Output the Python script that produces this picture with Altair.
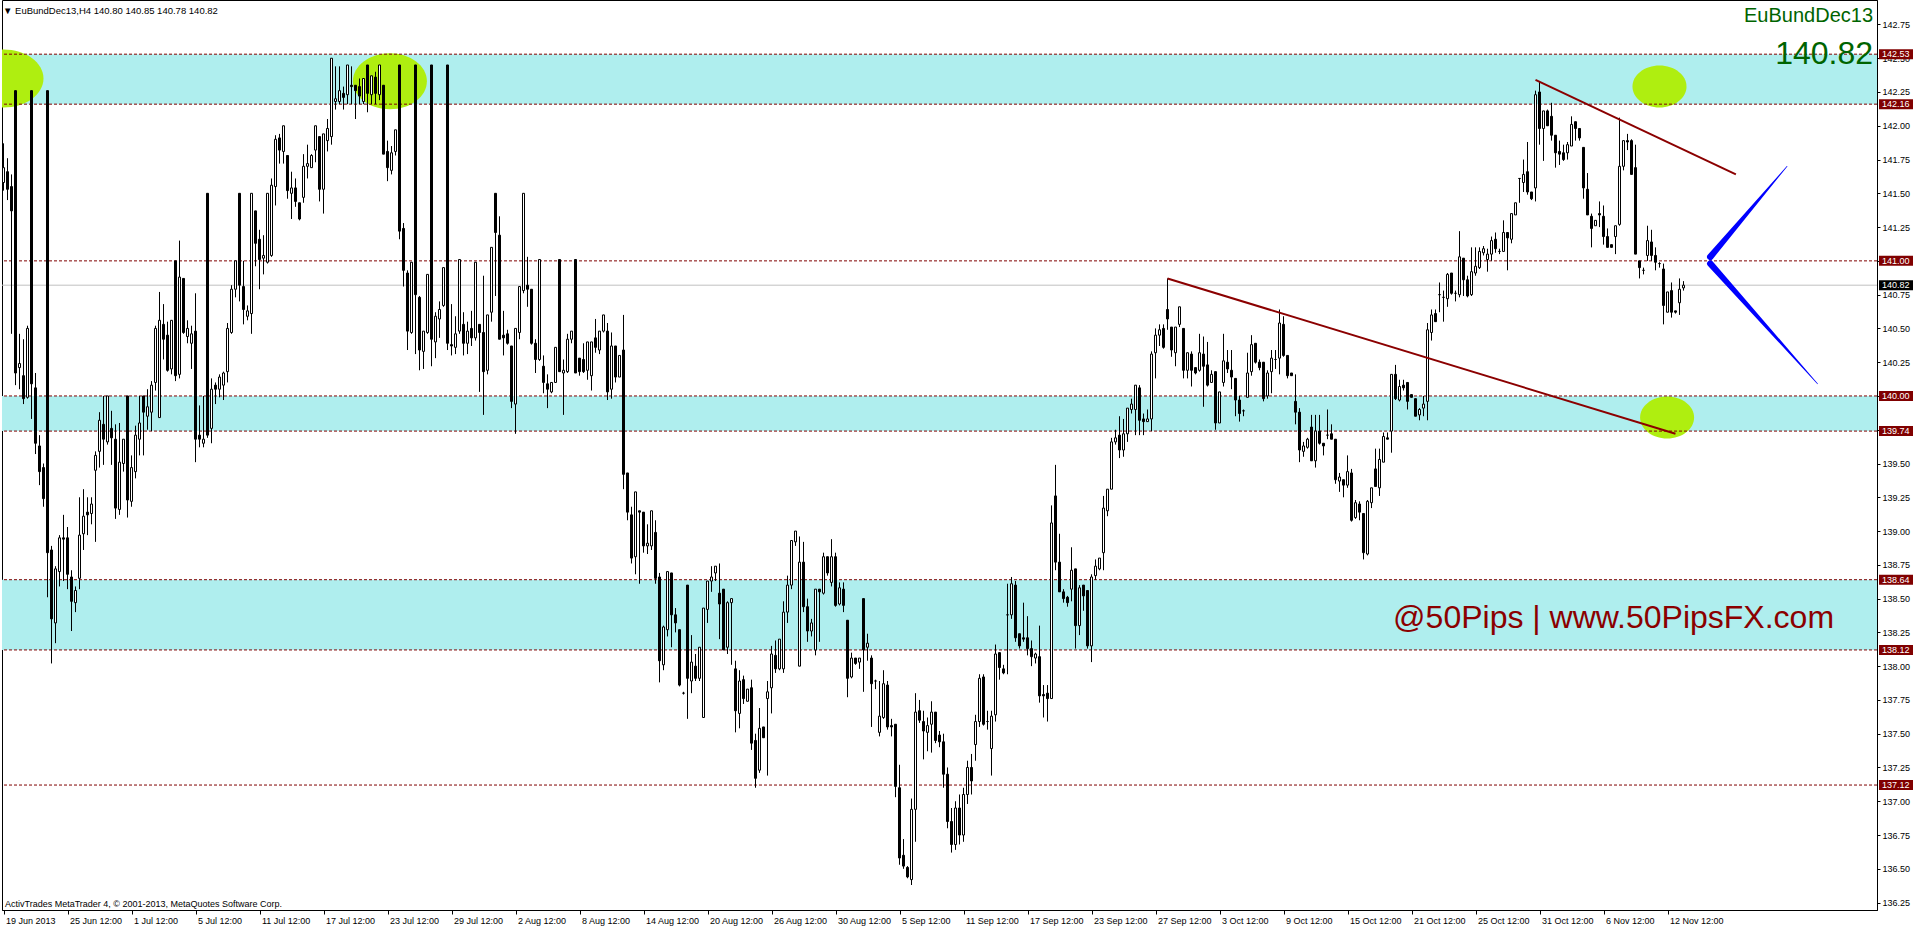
import json
import altair as alt
import pandas as pd

# ---------------- data ----------------
OPEN = [
141.58,141.66,141.55,142.26,140.21,140.15,139.99,142.26,140.06,139.63,
139.47,142.26,138.86,138.32,138.70,138.95,138.95,138.66,138.47,138.65,
138.98,139.14,139.13,139.45,139.59,139.79,139.66,139.76,139.68,139.16,
139.50,140.00,139.22,139.44,139.68,140.00,139.85,139.88,140.10,139.84,
140.53,140.45,140.20,141.00,140.16,140.87,140.44,140.39,140.48,139.71,
139.65,141.50,139.76,140.08,140.05,140.08,140.18,140.47,140.79,141.50,
140.81,140.59,140.61,141.37,141.16,141.02,140.99,141.04,141.55,141.91,
141.81,141.78,141.50,141.54,141.43,141.47,141.70,141.69,141.82,141.92,
141.53,141.89,141.92,142.18,142.18,142.24,142.23,142.30,142.30,142.29,
142.18,142.45,142.23,142.36,142.23,142.30,141.81,141.67,141.81,142.45,
141.24,140.91,140.47,142.45,140.73,140.33,140.47,142.45,140.40,140.57,
140.67,142.45,140.38,140.36,140.48,140.53,140.39,140.50,140.43,140.53,
140.47,140.19,140.62,141.50,141.19,140.45,140.46,140.37,139.94,140.47,
140.78,140.82,140.79,140.39,140.27,140.22,140.09,140.03,140.10,141.01,
140.17,140.18,140.42,141.01,140.28,140.27,140.19,140.15,140.43,140.34,
140.48,140.48,140.05,140.37,140.14,140.34,139.43,139.12,138.81,139.15,
139.14,138.89,138.89,138.99,138.66,138.01,138.27,138.69,138.38,138.27,
137.80,138.60,137.89,138.00,137.91,137.62,138.42,138.63,138.69,138.54,
138.57,138.14,138.47,137.98,137.65,137.90,137.74,137.84,137.45,137.23,
137.55,137.76,137.84,138.08,137.98,137.98,138.40,138.60,138.92,138.00,
138.77,138.44,138.26,138.12,138.57,138.54,138.81,138.62,138.81,138.46,
138.57,138.34,137.92,138.06,138.03,138.50,138.14,138.06,137.89,137.51,
137.62,137.86,137.56,137.57,137.10,136.60,136.51,136.42,136.94,137.67,
137.59,137.51,137.57,137.66,137.49,137.44,137.20,136.85,136.68,136.95,
136.75,137.05,137.25,137.42,137.59,137.92,137.59,137.39,137.64,138.10,
137.98,138.38,138.38,138.60,138.24,138.21,138.21,138.13,138.06,138.07,
137.79,137.80,137.76,139.26,138.77,138.55,138.51,138.57,138.72,138.30,
138.60,138.56,138.15,138.67,138.72,138.84,139.15,139.31,139.66,139.71,
139.60,139.72,139.90,139.90,140.06,139.83,139.81,139.83,140.32,140.45,
140.50,140.64,140.51,140.32,140.53,140.50,140.19,140.31,140.21,140.19,
140.31,140.23,140.10,140.18,139.80,140.10,140.25,140.19,140.13,139.97,
139.89,139.99,140.18,140.39,140.25,140.25,140.00,140.18,140.27,140.28,
140.53,140.30,140.17,139.96,139.88,139.59,139.62,139.77,139.52,139.74,
139.65,139.71,139.72,139.68,139.37,139.38,139.34,139.43,139.10,139.20,
139.13,138.83,139.21,139.46,139.32,139.51,139.69,139.74,140.16,139.97,
140.08,140.10,140.01,139.98,139.86,139.91,139.96,140.47,140.61,140.75,
140.73,140.72,140.91,140.76,140.75,141.02,140.86,140.75,140.91,140.95,
141.06,141.01,141.05,141.16,141.07,141.07,141.21,141.16,141.34,141.61,
141.58,141.66,141.51,141.54,142.25,141.98,142.11,142.07,141.93,141.81,
141.80,141.80,141.85,142.03,141.98,141.84,141.53,141.33,141.26,141.35,
141.33,141.18,141.12,141.18,141.27,141.70,141.89,141.89,141.69,141.00,
140.93,141.04,141.14,141.04,140.98,140.94,140.62,140.78,140.63,140.69,
140.80]

HIGH = [
141.87,141.76,141.64,142.26,140.46,140.42,140.52,142.26,140.17,139.71,
139.50,142.26,138.89,138.74,138.97,139.12,139.03,138.71,138.59,139.25,
139.31,139.25,139.25,139.59,139.88,140.00,140.00,139.89,139.79,139.80,
139.68,140.00,139.56,139.78,140.00,140.00,140.05,140.11,140.52,140.77,
140.68,140.55,140.56,141.00,141.15,140.87,140.56,140.52,140.76,139.93,
140.00,141.50,140.13,140.10,140.16,140.18,140.54,140.82,141.00,141.50,
141.00,140.67,141.50,141.37,141.23,141.19,141.50,141.61,141.93,141.94,
142.00,141.78,141.66,141.61,141.43,141.79,141.86,141.79,142.00,141.92,
141.94,142.05,142.50,142.44,142.44,142.29,142.45,142.44,142.30,142.35,
142.35,142.45,142.37,142.40,142.45,142.30,141.89,141.85,141.97,142.45,
141.28,140.93,140.99,142.45,140.74,140.48,140.90,142.45,140.62,140.70,
140.95,142.45,140.68,140.59,141.01,140.62,140.55,140.63,140.99,140.53,
140.89,140.60,141.10,141.50,141.33,140.63,140.49,140.37,140.50,140.81,
141.50,141.03,140.79,140.42,141.01,140.30,140.16,140.10,140.36,141.01,
140.27,140.46,140.48,141.01,140.28,140.39,140.40,140.40,140.57,140.48,
140.60,140.54,140.47,140.37,140.30,140.60,139.43,139.18,139.29,139.15,
139.14,139.05,139.15,139.08,138.69,138.30,138.70,138.69,138.43,138.27,
137.81,138.60,138.23,138.09,138.14,138.43,138.63,138.74,138.74,138.76,
138.57,138.48,138.50,138.04,137.97,137.93,137.83,137.90,137.50,137.69,
137.55,137.89,138.15,138.19,138.20,138.48,138.67,138.93,139.00,138.96,
138.92,138.50,138.35,138.57,138.57,138.84,138.81,138.94,138.84,138.62,
138.62,138.34,138.10,138.06,138.06,138.50,138.24,138.08,137.90,137.89,
137.97,137.89,137.61,137.57,137.27,136.72,136.52,137.02,137.80,137.75,
137.67,137.62,137.74,137.66,137.52,137.50,137.25,136.95,137.00,137.05,
137.10,137.30,137.35,137.64,137.94,137.94,137.67,137.67,138.16,138.10,
138.01,138.61,138.66,138.63,138.24,138.47,138.37,138.19,138.10,138.30,
137.86,137.86,139.19,139.49,138.98,138.57,138.52,138.88,138.72,138.60,
138.60,138.56,138.68,138.79,138.80,139.26,139.31,139.69,139.75,139.85,
139.83,139.91,139.98,140.08,140.08,139.87,139.90,140.33,140.50,140.53,
140.53,140.87,140.51,140.51,140.66,140.50,140.32,140.33,140.21,140.46,
140.44,140.40,140.19,140.18,140.03,140.46,140.34,140.34,140.13,140.00,
139.90,140.32,140.45,140.39,140.27,140.25,140.19,140.34,140.34,140.64,
140.59,140.30,140.17,140.16,139.91,139.66,139.69,139.86,139.86,139.86,
139.65,139.90,139.79,139.68,139.43,139.38,139.56,139.46,139.23,139.22,
139.13,139.23,139.32,139.61,139.61,139.73,139.73,140.16,140.23,140.12,
140.12,140.10,140.01,139.98,139.91,140.00,140.54,140.64,140.64,140.84,
140.78,140.91,140.91,140.78,141.22,141.02,140.89,141.10,141.10,141.10,
141.11,141.09,141.18,141.21,141.09,141.30,141.21,141.35,141.43,141.61,
141.75,141.88,141.51,142.26,142.33,142.11,142.12,142.17,141.93,141.89,
141.86,141.88,142.07,142.03,141.98,141.84,141.65,141.35,141.30,141.44,
141.41,141.24,141.12,141.26,142.06,141.89,141.94,141.90,141.86,141.00,
140.95,141.26,141.23,141.10,140.99,140.98,140.77,140.84,140.63,140.87,
140.85]

LOW = [
141.52,141.45,140.46,140.08,140.05,139.94,139.98,139.83,139.57,139.34,
139.18,138.51,138.02,138.17,138.59,138.63,138.57,138.26,138.40,138.57,
138.86,138.97,139.05,138.92,139.47,139.49,139.64,139.49,139.09,139.12,
139.44,139.10,139.18,139.39,139.56,139.56,139.75,139.74,140.04,139.84,
140.27,140.18,140.16,140.11,140.13,140.46,140.39,140.20,139.51,139.62,
139.62,139.69,139.65,139.94,139.99,139.97,140.10,140.46,140.73,140.70,
140.53,140.56,140.46,140.96,140.79,140.90,140.98,141.03,141.41,141.72,
141.72,141.46,141.31,141.40,141.30,141.43,141.61,141.69,141.73,141.44,
141.35,141.81,141.86,142.12,142.16,142.12,142.16,142.16,142.05,142.16,
142.16,142.10,142.16,142.16,142.19,141.79,141.59,141.64,141.78,141.16,
140.81,140.34,140.46,140.31,140.19,140.20,140.46,140.22,140.28,140.43,
140.66,140.34,140.30,140.31,140.46,140.30,140.31,140.37,140.41,140.03,
139.86,140.16,140.55,140.74,140.42,140.30,140.38,139.91,139.72,140.42,
140.76,140.66,140.38,140.17,140.26,140.02,139.91,140.02,140.10,140.18,
139.86,140.17,140.39,140.17,140.15,140.17,140.12,140.04,140.32,140.31,
140.47,139.97,139.98,140.10,140.14,139.31,139.08,138.76,138.68,138.61,
138.84,138.83,138.86,138.61,137.88,137.97,138.22,138.14,138.25,137.85,
137.79,137.61,137.80,137.89,137.89,137.62,138.32,138.55,138.63,138.20,
138.12,138.09,138.01,137.51,137.54,137.72,137.74,137.38,137.10,137.21,
137.47,137.19,137.65,137.95,137.97,137.95,138.32,138.57,138.89,138.00,
138.40,138.18,138.22,138.08,138.18,138.53,138.67,138.59,138.44,138.45,
138.40,137.77,137.91,138.01,137.98,137.81,138.04,137.55,137.83,137.48,
137.61,137.53,137.48,137.03,136.53,136.50,136.43,136.38,136.70,137.58,
137.31,137.37,137.36,137.43,137.40,137.10,136.80,136.62,136.64,136.68,
136.70,136.98,137.05,137.30,137.55,137.56,137.53,137.19,137.59,137.90,
137.94,137.94,138.35,138.18,138.13,138.18,138.08,138.00,138.02,137.73,
137.62,137.59,137.76,138.71,138.55,138.47,138.44,138.48,138.13,138.23,
138.41,138.13,138.03,138.64,138.71,138.71,139.11,139.31,139.64,139.54,
139.55,139.66,139.87,139.71,139.71,139.71,139.81,139.74,140.13,140.37,
140.35,140.49,140.29,140.22,140.51,140.13,140.13,140.07,140.16,140.18,
139.92,140.07,140.10,139.75,139.80,140.07,140.17,140.05,139.85,139.81,
139.85,139.99,140.15,140.24,140.19,139.96,139.98,140.02,140.20,140.16,
140.29,140.13,140.15,139.79,139.51,139.55,139.61,139.52,139.47,139.64,
139.56,139.68,139.68,139.35,139.29,139.25,139.32,139.07,139.09,139.08,
138.79,138.82,139.17,139.33,139.26,139.51,139.68,139.58,139.97,139.96,
140.04,139.90,139.99,139.85,139.82,139.85,139.82,140.41,140.55,140.62,
140.55,140.66,140.75,140.70,140.73,140.74,140.73,140.74,140.89,140.94,
141.04,140.92,141.00,141.06,141.05,141.07,140.93,141.13,141.34,141.43,
141.51,141.49,141.45,141.44,141.86,141.74,142.00,141.89,141.69,141.71,
141.74,141.75,141.85,141.89,141.89,141.46,141.34,141.10,141.26,141.25,
141.12,141.10,141.10,141.05,141.26,141.67,141.82,141.64,141.05,140.87,
140.90,141.00,141.00,140.93,140.95,140.53,140.62,140.58,140.61,140.60,
140.78]

CLOSE = [
141.69,141.53,141.37,140.17,140.24,139.98,140.50,140.09,139.65,139.44,
139.24,138.84,138.35,138.72,138.95,138.94,138.68,138.48,138.56,138.97,
139.11,139.12,139.20,139.56,139.82,139.68,140.00,139.69,139.17,139.51,
139.68,139.23,139.47,139.71,139.80,139.88,139.92,140.08,140.50,140.56,
140.42,140.19,140.56,140.15,140.88,140.47,140.50,140.46,139.68,139.68,
139.68,139.71,140.05,140.05,140.14,140.17,140.50,140.79,141.00,140.82,
140.64,140.63,141.50,141.13,141.01,141.04,141.50,141.56,141.90,141.82,
142.00,141.52,141.54,141.44,141.31,141.70,141.72,141.78,142.00,141.53,
141.94,141.98,142.50,142.20,142.26,142.21,142.45,142.29,142.26,142.22,
142.35,142.24,142.37,142.24,142.45,141.79,141.69,141.80,141.97,141.22,
140.93,140.48,140.99,140.75,140.34,140.48,140.90,140.42,140.59,140.64,
140.95,140.39,140.37,140.46,141.01,140.39,140.48,140.43,140.99,140.47,
140.18,140.60,141.10,141.21,140.42,140.43,140.39,139.96,140.50,140.81,
141.50,140.79,140.39,140.27,141.01,140.10,140.05,140.10,140.36,140.18,
140.19,140.42,140.48,140.17,140.18,140.18,140.40,140.40,140.36,140.48,
140.60,140.03,140.37,140.14,140.30,139.42,139.14,138.80,139.29,139.14,
138.89,138.91,139.15,138.65,138.04,138.29,138.70,138.38,138.32,137.86,
137.80,137.91,138.03,137.91,138.14,138.43,138.63,138.66,138.74,138.46,
138.12,138.47,138.50,137.67,137.89,137.76,137.83,137.43,137.17,137.54,
137.47,137.81,138.09,137.98,138.20,138.40,138.60,138.93,139.00,138.77,
138.44,138.26,138.32,138.57,138.55,138.81,138.69,138.81,138.45,138.58,
138.45,137.91,138.06,138.02,138.06,138.12,138.17,137.87,137.89,137.63,
137.87,137.55,137.55,137.11,136.58,136.52,136.44,136.94,137.66,137.60,
137.52,137.56,137.66,137.45,137.44,137.20,136.85,136.68,136.95,136.75,
137.05,137.25,137.15,137.59,137.91,137.57,137.59,137.63,138.09,137.99,
137.95,138.38,138.61,138.21,138.15,138.20,138.13,138.07,138.09,137.78,
137.78,137.76,139.06,138.77,138.55,138.50,138.47,138.71,138.30,138.58,
138.52,138.15,138.66,138.74,138.80,139.17,139.31,139.66,139.69,139.60,
139.72,139.91,139.94,140.08,139.82,139.81,139.83,140.31,140.45,140.49,
140.36,140.57,140.34,140.51,140.66,140.19,140.32,140.19,140.17,140.32,
140.22,140.08,140.16,139.80,140.03,140.26,140.20,140.14,139.97,139.87,
139.89,140.17,140.38,140.25,140.21,139.98,140.17,140.28,140.27,140.54,
140.30,140.15,140.15,139.88,139.60,139.63,139.68,139.52,139.74,139.65,
139.63,139.71,139.68,139.38,139.40,139.34,139.44,139.08,139.21,139.14,
138.84,139.22,139.32,139.33,139.53,139.70,139.68,140.16,139.98,140.07,
140.06,139.96,139.99,139.85,139.90,139.94,140.49,140.60,140.55,140.75,
140.73,140.90,140.76,140.76,141.03,140.86,140.74,140.92,140.96,141.07,
141.09,141.05,141.15,141.09,141.07,141.21,141.17,141.35,141.43,141.61,
141.64,141.51,141.46,142.23,141.98,142.11,142.00,141.93,141.80,141.79,
141.75,141.86,142.01,141.98,141.91,141.54,141.34,141.24,141.30,141.34,
141.18,141.10,141.10,141.26,141.70,141.89,141.88,141.64,141.05,140.95,
140.93,141.15,141.04,140.99,140.98,140.67,140.77,140.62,140.62,140.79,
140.82]

DATE_LABELS = ["19 Jun 2013", "25 Jun 12:00", "1 Jul 12:00", "5 Jul 12:00",
               "11 Jul 12:00", "17 Jul 12:00", "23 Jul 12:00", "29 Jul 12:00",
               "2 Aug 12:00", "8 Aug 12:00", "14 Aug 12:00", "20 Aug 12:00",
               "26 Aug 12:00", "30 Aug 12:00", "5 Sep 12:00", "11 Sep 12:00",
               "17 Sep 12:00", "23 Sep 12:00", "27 Sep 12:00", "3 Oct 12:00",
               "9 Oct 12:00", "15 Oct 12:00", "21 Oct 12:00", "25 Oct 12:00",
               "31 Oct 12:00", "6 Nov 12:00", "12 Nov 12:00"]
DATE_TICKS = [0, 16, 32, 48, 64, 80, 96, 112, 128, 144, 160, 176, 192, 208,
              224, 240, 256, 272, 288, 304, 320, 336, 352, 368, 384, 400, 416]

PRICE_TICKS = [136.25, 136.50, 136.75, 137.00, 137.25, 137.50, 137.75, 138.00,
               138.25, 138.50, 138.75, 139.00, 139.25, 139.50, 139.75, 140.00,
               140.25, 140.50, 140.75, 141.00, 141.25, 141.50, 141.75, 142.00,
               142.25, 142.50, 142.75]

BAND_LOW = [142.16, 139.74, 138.12]
BAND_HIGH = [142.53, 140.00, 138.64]
LEVELS = [142.53, 142.16, 141.00, 140.00, 139.74, 138.64, 138.12, 137.12]
LAST_PRICE = 140.82

TREND_ID = ["upper", "upper", "lower", "lower"]
TREND_BAR = [383.0, 433.1, 291.0, 418.0]
TREND_PRICE = [142.34, 141.64, 140.87, 139.72]

ARROW_ID = ["up", "up", "down", "down"]
ARROW_BAR = [426.7, 445.9, 426.7, 453.5]
ARROW_PRICE = [141.03, 141.70, 140.98, 140.09]

ELL_BAR = [0.0, 96.6, 414.0, 415.9]
ELL_PRICE = [142.35, 142.33, 142.29, 139.84]

WATERMARK = "@50Pips | www.50PipsFX.com"
WATERMARK_BAR = 347.4
WATERMARK_PRICE = 138.28

SYMBOL = "EuBundDec13"
HEADER = "\u25bc EuBundDec13,H4  140.80 140.85 140.78 140.82"
COPYRIGHT = "ActivTrades MetaTrader 4, \u00a9 2001-2013, MetaQuotes Software Corp."

# ---------------- layout / style ----------------
W, H = 1875, 910
XMIN, XMAX = -0.375, 468.375
YMIN, YMAX = 136.195, 142.931
MAROON = "#800000"
GREEN = "#006400"
FONT = "Liberation Sans"
ELLIPSE_COLOR = "#AFEE10"

xs = alt.Scale(domain=[XMIN, XMAX], nice=False, zero=False)
ys = alt.Scale(domain=[YMIN, YMAX], nice=False, zero=False)

label_expr = "%s[round(datum.value / 16)]" % json.dumps(DATE_LABELS)
XAX = alt.Axis(values=DATE_TICKS, labelExpr=label_expr, title=None, grid=False,
               orient="bottom", domainColor="black", tickColor="black", tickSize=4,
               labelAlign="left", labelPadding=2, labelOffset=2, labelFont=FONT,
               labelFontSize=9, labelColor="black", labelOverlap=False, labelFlush=False)
YAX = alt.Axis(values=PRICE_TICKS, format=".2f", title=None, grid=False, orient="right",
               domainColor="black", tickColor="black", tickSize=3, labelPadding=2,
               labelFont=FONT, labelFontSize=9, labelColor="black", labelOverlap=False,
               labelBaseline="middle", labelFlush=False)


def X(field):
    return alt.X(field, type="quantitative", scale=xs, axis=XAX)


def Y(field):
    return alt.Y(field, type="quantitative", scale=ys, axis=YAX)


n = len(CLOSE)
df = pd.DataFrame({"i": list(range(n)), "o": OPEN, "h": HIGH, "l": LOW, "c": CLOSE})
df["top"] = df[["o", "c"]].max(axis=1)
df["bot"] = df[["o", "c"]].min(axis=1)
df["dir"] = ["up" if c >= o else "down" for o, c in zip(OPEN, CLOSE)]

bands = pd.DataFrame({"lo": BAND_LOW, "hi": BAND_HIGH, "x1": XMIN, "x2": XMAX})
levels = pd.DataFrame({"p": LEVELS})
lastdf = pd.DataFrame({"p": [LAST_PRICE]})
trend = pd.DataFrame({"g": TREND_ID, "b": TREND_BAR, "p": TREND_PRICE})
arrows = pd.DataFrame({"g": ARROW_ID, "b": ARROW_BAR, "p": ARROW_PRICE,
                       "k": [0, 1, 0, 1]})
arrows["w"] = [6.5, 0.6, 6.5, 0.6]

ratio = [29 / 40, 28 / 37, 21 / 27, 21 / 27]
rx = [40, 37, 27, 27]
ell = pd.DataFrame({"b": ELL_BAR, "p": ELL_PRICE})
ell["s"] = [(2 * r) ** 2 for r in rx]
ell["path"] = ["M-1,0 A1,%.3f 0 1,0 1,0 A1,%.3f 0 1,0 -1,0 Z" % (q, q) for q in ratio]

base = alt.Chart(df)

band_layer = alt.Chart(bands).mark_rect(color="#AFEEEE").encode(
    x=X("x1"), x2="x2", y=Y("lo"), y2="hi")

ell_layer = alt.Chart(ell).mark_point(filled=True, opacity=1, strokeWidth=0,
                                      clip=True).encode(
    x=X("b"), y=Y("p"),
    size=alt.Size("s:Q", scale=None),
    shape=alt.Shape("path:N", scale=None),
    color=alt.value(ELLIPSE_COLOR))

level_layer = alt.Chart(levels).mark_rule(color=MAROON, strokeWidth=1,
                                          strokeDash=[3, 2]).encode(y=Y("p"))

last_layer = alt.Chart(lastdf).mark_rule(color="#C0C0C0", strokeWidth=1).encode(y=Y("p"))

wick = base.mark_rule(color="black", strokeWidth=1).encode(x=X("i"), y=Y("l"), y2="h")

body = base.transform_calculate(
    x1="datum.i - 0.25", x2="datum.i + 0.25"
).mark_rect(stroke="black", strokeWidth=1).encode(
    x=X("x1"), x2="x2", y=Y("bot"), y2="top",
    fill=alt.Fill("dir:N", scale=alt.Scale(domain=["up", "down"], range=["white", "black"]),
                  legend=None))

trend_layer = alt.Chart(trend).mark_line(color="#8B0000", strokeWidth=2).encode(
    x=X("b"), y=Y("p"), detail="g:N")

arrow_layer = alt.Chart(arrows).mark_trail(color="#0000FF").encode(
    x=X("b"), y=Y("p"), detail="g:N", order="k:Q",
    size=alt.Size("w:Q", scale=None))

wm = alt.Chart(pd.DataFrame({"b": [WATERMARK_BAR], "p": [WATERMARK_PRICE], "t": [WATERMARK]})
               ).mark_text(align="left", baseline="alphabetic", font=FONT, fontSize=32,
                           color="#8B0000").encode(x=X("b"), y=Y("p"), text="t:N")

# price tags on the right scale
tags = pd.DataFrame({"p": LEVELS, "t": ["%.2f" % v for v in LEVELS]})
tag_box = alt.Chart(tags).mark_rect(color=MAROON, yOffset=-5, y2Offset=5).encode(
    x=alt.value(W + 2), x2=alt.value(W + 36), y=Y("p"), y2="p")
tag_txt = alt.Chart(tags).mark_text(align="left", baseline="middle", font=FONT,
                                    fontSize=9, color="white").encode(
    x=alt.value(W + 5), y=Y("p"), text="t:N")
last_tags = pd.DataFrame({"p": [LAST_PRICE], "t": ["%.2f" % LAST_PRICE]})
last_box = alt.Chart(last_tags).mark_rect(color="black", yOffset=-5, y2Offset=5).encode(
    x=alt.value(W + 2), x2=alt.value(W + 36), y=Y("p"), y2="p")
last_txt = alt.Chart(last_tags).mark_text(align="left", baseline="middle", font=FONT,
                                          fontSize=9, color="white").encode(
    x=alt.value(W + 5), y=Y("p"), text="t:N")

one = pd.DataFrame({"a": [0]})
header = alt.Chart(one).mark_text(align="left", baseline="middle", font=FONT, fontSize=9.5,
                                  color="black").encode(
    x=alt.value(1), y=alt.value(11), text=alt.value(HEADER))
sym = alt.Chart(one).mark_text(align="right", baseline="alphabetic", font=FONT, fontSize=20,
                               color=GREEN).encode(
    x=alt.value(W - 4), y=alt.value(22), text=alt.value(SYMBOL))
big = alt.Chart(one).mark_text(align="right", baseline="alphabetic", font=FONT, fontSize=32,
                               color=GREEN).encode(
    x=alt.value(W - 4), y=alt.value(64), text=alt.value("%.2f" % LAST_PRICE))
copy = alt.Chart(one).mark_text(align="left", baseline="middle", font=FONT, fontSize=9,
                                color="black").encode(
    x=alt.value(3), y=alt.value(H - 6), text=alt.value(COPYRIGHT))

chart = alt.layer(
    band_layer, ell_layer, level_layer, last_layer, wick, body, trend_layer, arrow_layer,
    wm, tag_box, tag_txt, last_box, last_txt, header, sym, big, copy
).properties(
    width=W, height=H,
    padding={"left": 2, "top": 0, "right": 39, "bottom": 18},
    autosize=alt.AutoSizeParams(type="none"),
    background="white",
).configure_view(stroke="black", strokeWidth=1)

chart.save("out.html", embed_options={"renderer": "svg", "actions": False})
